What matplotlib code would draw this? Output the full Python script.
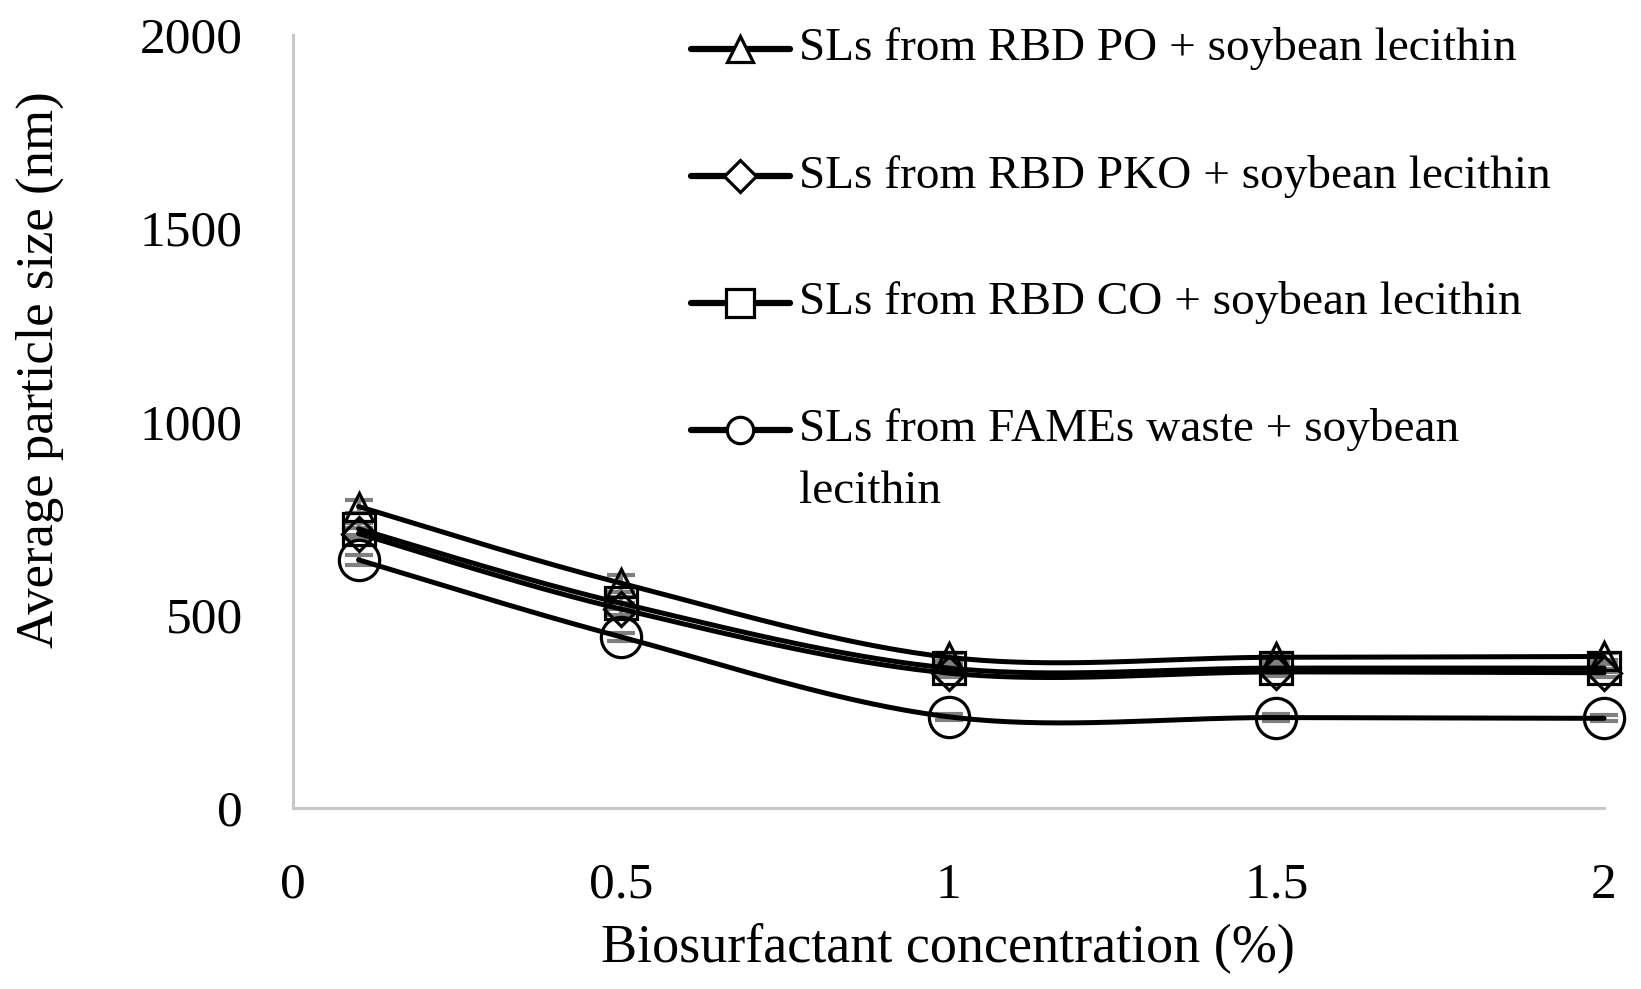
import numpy as np
import matplotlib
matplotlib.use("Agg")
import matplotlib.pyplot as plt
from matplotlib.lines import Line2D

plt.rcParams['font.family'] = ['Liberation Serif', 'DejaVu Serif']

# ---- data ----
conc = [0.1, 0.5, 1.0, 1.5, 2.0]
labels = [
    "SLs from RBD PO + soybean lecithin",
    "SLs from RBD PKO + soybean lecithin",
    "SLs from RBD CO + soybean lecithin",
    "SLs from FAMEs waste + soybean\nlecithin",
]
po = [780, 582, 390, 390, 392]
pko = [710, 515, 349, 352, 350]
co = [722, 530, 362, 362, 362]
fame = [642, 443, 236, 234, 232]
po_err = [18, 22, 10, 10, 10]
pko_err = [15, 15, 10, 10, 10]
co_err = [15, 15, 10, 10, 10]
fame_err = [12, 10, 8, 8, 8]
xticks = [0, 0.5, 1, 1.5, 2]
yticks = [0, 500, 1000, 1500, 2000]

series = [po, pko, co, fame]
errs = [po_err, pko_err, co_err, fame_err]
markers = ['^', 'D', 's', 'o']
msizes = [20, 17, 23, 29]
leg_msizes = [19, 16, 20, 19]


def excel_smooth(x, y, n=40):
    x = np.asarray(x, float)
    y = np.asarray(y, float)
    P = np.column_stack([x, y])
    out = []
    m = len(P)
    for i in range(m - 1):
        p0 = P[i - 1] if i > 0 else P[i]
        p1 = P[i]
        p2 = P[i + 1]
        p3 = P[i + 2] if i + 2 < m else P[i + 1]
        c1 = p1 + (p2 - p0) / 6.0
        c2 = p2 - (p3 - p1) / 6.0
        t = np.linspace(0, 1, n)[:, None]
        seg = ((1 - t) ** 3) * p1 + 3 * ((1 - t) ** 2) * t * c1 + 3 * (1 - t) * t ** 2 * c2 + t ** 3 * p2
        if i > 0:
            seg = seg[1:]
        out.append(seg)
    out = np.vstack(out)
    return out[:, 0], out[:, 1]


fig = plt.figure(figsize=(16.41, 9.89), dpi=100)
ax = fig.add_axes([293 / 1641, 1 - 808 / 989, (1604 - 293) / 1641, (808 - 35) / 989])

for ys, e in zip(series, errs):
    eb = ax.errorbar(conc, ys, yerr=e, fmt='none', ecolor='#7f7f7f', elinewidth=3,
                     capsize=10, capthick=3, zorder=2)
    for art in eb.lines[1] + eb.lines[2]:
        art.set_clip_on(False)

for ys, mk, ms in zip(series, markers, msizes):
    sx, sy = excel_smooth(conc, ys)
    ax.plot(sx, sy, color='black', lw=3.6, zorder=3, solid_capstyle='round', clip_on=False)
    ax.plot(conc, ys, linestyle='none', marker=mk, markersize=ms, clip_on=False,
            markerfacecolor='none', markeredgecolor='black', markeredgewidth=2.3, zorder=4)

ax.set_xlim(0, 2)
ax.set_ylim(0, 2000)
ax.set_xticks(xticks)
ax.set_xticklabels(['0', '0.5', '1', '1.5', '2'])
ax.set_yticks(yticks)
ax.tick_params(axis='both', length=0, labelsize=37)
ax.tick_params(axis='x', pad=39)
ax.tick_params(axis='y', pad=36)
for s in ['top', 'right']:
    ax.spines[s].set_visible(False)
for s in ['left', 'bottom']:
    ax.spines[s].set_color('#c8c8c8')
    ax.spines[s].set_linewidth(2.2)

ax.set_xlabel('Biosurfactant concentration (%)', fontsize=39)
ax.xaxis.set_label_coords(0.4996, -0.181)
ax.xaxis.label.set_va('center')
ax.set_ylabel('Average particle size (nm)', fontsize=38)
ax.yaxis.set_label_coords(-0.193, 0.567)
ax.yaxis.label.set_va('center')

# legend (manual layout)
leg_y_px = [49, 176, 303, 430]
line_gap_px = 62
x0, x1, xm, xt = 691, 790, 740, 799
for lab, mk, ms, ypx in zip(labels, markers, leg_msizes, leg_y_px):
    yf = 1 - ypx / 989
    fig.add_artist(Line2D([x0 / 1641, x1 / 1641], [yf, yf], transform=fig.transFigure,
                          color='black', lw=4.5, solid_capstyle='round'))
    fig.add_artist(Line2D([xm / 1641], [yf], transform=fig.transFigure, linestyle='none',
                          marker=mk, markersize=ms, markerfacecolor='white',
                          markeredgecolor='black', markeredgewidth=2.3))
    for k, part in enumerate(lab.split('\n')):
        fig.text(xt / 1641, 1 - (ypx + k * line_gap_px) / 989, part, fontsize=34,
                 va='center', ha='left', transform=fig.transFigure)

fig.savefig('out.png', dpi=100)
